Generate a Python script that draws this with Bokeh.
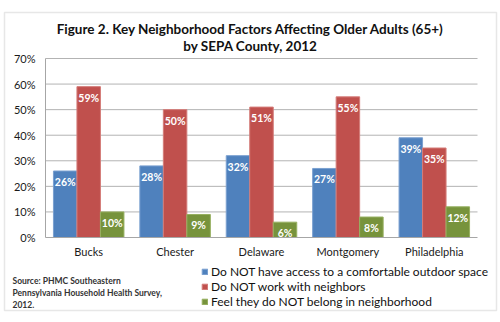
from bokeh.plotting import figure
from bokeh.models import (ColumnDataSource, Range1d, FixedTicker, PrintfTickFormatter,
                          Label, Legend, LegendItem, BoxAnnotation)
from bokeh.transform import dodge
from bokeh.embed import file_html
from bokeh.resources import INLINE
from bokeh.core.properties import value

counties = ["Bucks", "Chester", "Delaware", "Montgomery", "Philadelphia"]
no_outdoor = [26, 28, 32, 27, 39]
no_neighbors = [59, 50, 51, 55, 35]
not_belong = [10, 9, 6, 8, 12]
series_names = ["Do NOT have access to a comfortable outdoor space",
                "Do NOT work with neighbors",
                "Feel they do NOT belong in neighborhood"]
y_ticks = [0, 10, 20, 30, 40, 50, 60, 70]

FONT = "Lato"
colors = ["#4F81BD", "#C0504D", "#77933C"]
edges = ["#7BA0D0", "#D47C79", "#97B060"]

W, H = 500, 322
# plot area in page pixels
FL, FR, FT, FB = 45, 477, 58, 237
n = len(counties)
YMAX = y_ticks[-1]
xs = (FR - FL) / n           # px per category
ys = (FB - FT) / YMAX        # px per percent

centers = [i + 0.5 for i in range(n)]
source = ColumnDataSource(dict(
    x=centers, s0=no_outdoor, s1=no_neighbors, s2=not_belong,
    l0=[f"{v}%" for v in no_outdoor], l1=[f"{v}%" for v in no_neighbors], l2=[f"{v}%" for v in not_belong],
))

p = figure(width=W, height=H,
           x_range=Range1d(-FL / xs, n + (W - FR) / xs),
           y_range=Range1d(-(H - FB) / ys, YMAX + FT / ys),
           output_backend="svg", toolbar_location=None, min_border=0)
p.min_border_left = p.min_border_right = p.min_border_top = p.min_border_bottom = 0
p.outline_line_color = None
p.background_fill_color = "white"
p.border_fill_color = "white"
p.grid.visible = False

# axes drawn inside the canvas at the plot-area edges
p.yaxis.fixed_location = 0
p.yaxis.bounds = (0, YMAX)
p.yaxis.ticker = FixedTicker(ticks=y_ticks)
p.yaxis.formatter = PrintfTickFormatter(format="%d%%")
p.xaxis.fixed_location = 0
p.xaxis.bounds = (0, n)
p.xaxis.ticker = FixedTicker(ticks=centers)
p.xaxis.major_label_overrides = {c: name for c, name in zip(centers, counties)}
for ax in (p.xaxis, p.yaxis):
    ax.axis_line_color = "#A6A6A6"
    ax.major_tick_line_color = None
    ax.minor_tick_line_color = None
    ax.major_tick_out = 0
    ax.major_tick_in = 0
    ax.minor_tick_out = 0
    ax.major_label_text_font = FONT
    ax.major_label_text_font_size = "11px"
    ax.major_label_text_color = "#1a1a1a"
p.yaxis.major_label_standoff = 10
p.xaxis.major_label_standoff = 7

# horizontal gridlines
p.segment(x0=0, x1=n, y0=y_ticks[1:], y1=y_ticks[1:], line_color="#B3B3B3", line_width=1)

offs = [-0.272, 0.0, 0.272]
renderers = []
for i in range(3):
    r = p.vbar(x=dodge("x", offs[i]), top=f"s{i}", width=0.272,
               source=source, fill_color=colors[i], line_color=edges[i], line_width=1)
    renderers.append(r)
    p.text(x=dodge("x", offs[i]), y=f"s{i}", text=f"l{i}", source=source,
           text_align="center", text_baseline="top", y_offset=5,
           text_font=value(FONT), text_font_size="10.5px", text_font_style="bold", text_color="white")

# outer frame
p.add_layout(BoxAnnotation(left=4, right=496, bottom=H - 310, top=H - 12,
                           left_units="screen", right_units="screen", top_units="screen", bottom_units="screen",
                           fill_color=None, fill_alpha=0, line_color="#B0B0B0", line_width=1.5))

# title
for txt, yc in [("Figure 2. Key Neighborhood Factors Affecting Older Adults (65+)", 28.5),
                ("by SEPA County, 2012", 45)]:
    p.add_layout(Label(x=250, y=H - yc, x_units="screen", y_units="screen", text=txt,
                       text_align="center", text_baseline="middle", text_font=FONT,
                       text_font_size="13.5px", text_font_style="bold", text_color="#111111"))

# source note
for txt, yc in [("Source: PHMC Southeastern", 280), ("Pennsylvania Household Health Survey,", 292),
                ("2012.", 303.5)]:
    p.add_layout(Label(x=12, y=H - yc, x_units="screen", y_units="screen", text=txt,
                       text_align="left", text_baseline="middle", text_font=FONT,
                       text_font_size="8.5px", text_font_style="bold", text_color="#333333"))

legend = Legend(items=[LegendItem(label=series_names[i], renderers=[renderers[i]]) for i in range(3)],
                location=(201, H - 308.5), orientation="vertical",
                glyph_width=7, glyph_height=7, label_height=12, spacing=-3, label_standoff=3,
                padding=0, margin=0, border_line_color=None, background_fill_alpha=0,
                label_text_font=FONT, label_text_font_size="12px", label_text_color="#111111")
p.add_layout(legend, "center")

open("out.html", "w").write(file_html(p, INLINE))
